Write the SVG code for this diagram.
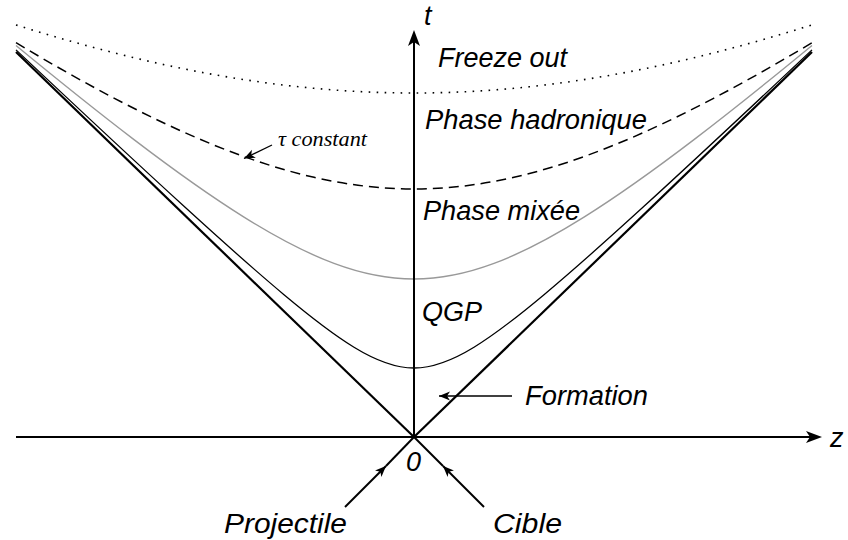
<svg xmlns="http://www.w3.org/2000/svg" width="848" height="540" viewBox="0 0 848 540">
<style>
.lbl{font-family:"Liberation Sans",Arial,sans-serif;font-style:italic;font-size:27px;fill:#000}
.ser{font-family:"Liberation Serif","Times New Roman",serif;font-style:italic;font-size:20px;fill:#000}
.axis{stroke:#000;stroke-width:2;fill:none}
.cone{stroke:#000;stroke-width:2.2;fill:none}
.qgp{stroke:#000;stroke-width:1.3;fill:none}
.grey{stroke:#999;stroke-width:1.4;fill:none}
.dash{stroke:#000;stroke-width:1.5;fill:none;stroke-dasharray:10 6}
.dot{stroke:#000;stroke-width:1.6;fill:none;stroke-dasharray:1.6 6.4}
.thin{stroke:#000;stroke-width:1.3;fill:none}
</style>
<defs>
<marker id="big" markerUnits="userSpaceOnUse" viewBox="-6 -8 20 16" markerWidth="20" markerHeight="16" refX="0" refY="0" orient="auto">
<path d="M12,0 L-4,-6 L0,0 L-4,6 Z" fill="#000"/>
</marker>
<marker id="small" markerUnits="userSpaceOnUse" viewBox="-12 -6 14 12" markerWidth="14" markerHeight="12" refX="0" refY="0" orient="auto">
<path d="M0,0 L-11,-4.5 L-8,0 L-11,4.5 Z" fill="#000"/>
</marker>
</defs>
<rect width="848" height="540" fill="#fff"/>
<g id="curves">
<g id="freeze-out-curve">
<path class="dot" d="M16,24.9 C48.67,35.16 81.33,44.5 114,52.8 C147.33,61.27 180.67,68.630 214,74.6 C247.33,80.57 280.67,85.19 314,88.3 C347.33,91.41 380.67,93 414,93 C447.33,93 480.67,91.41 514,88.3 C547.33,85.19 580.67,80.57 614,74.6 C647.33,68.63 680.67,61.27 714,52.8 C746.67,44.5 779.33,35.16 812,24.9"/>
</g>
<g id="tau-constant-curve">
<path class="dash" d="M16,42.7 C48.67,62.27 81.33,80.95 114,98.1 C147.33,115.6 180.67,131.57 214,145.1 C247.33,158.63 280.67,169.7 314,177.3 C347.33,184.9 380.67,189 414,189 C447.33,189 480.67,184.9 514,177.3 C547.33,169.7 580.67,158.63 614,145.1 C647.33,131.57 680.67,115.6 714,98.1 C746.67,80.95 779.33,62.27 812,42.7"/>
</g>
<g id="mixed-phase-curve">
<path class="grey" d="M16,45.5 C55.33,77.87 94.67,109.59 134,139.6 C170.67,167.58 207.33,194.15 244,217.1 C274,235.88 304,252.21 334,263.4 C360.67,273.35 387.33,279 414,279 C440.67,279 467.33,273.35 494,263.4 C524,252.21 554,235.88 584,217.1 C620.67,194.15 657.33,167.58 694,139.6 C733.33,109.59 772.67,77.87 812,45.5"/>
</g>
<g id="qgp-curve">
<path class="qgp" d="M16,49.9 C72,102.63 128,155.17 184,206.3 C217.33,236.73 250.67,266.8 284,294.7 C307.33,314.23 330.67,332.92 354,347.2 C374,359.44 394,368 414,368 C434,368 454,359.44 474,347.2 C497.33,332.92 520.67,314.23 544,294.7 C577.33,266.8 610.67,236.73 644,206.3 C700,155.17 756,102.63 812,49.9"/>
</g>
</g>
<g id="connectors">
<line id="z-axis" class="axis" x1="16" y1="437" x2="810" y2="437" marker-end="url(#big)"/>
<line id="t-axis" class="axis" x1="414" y1="437" x2="414" y2="42" marker-end="url(#big)"/>
<line id="cone-left" class="cone" x1="414" y1="437" x2="16" y2="52"/>
<line id="cone-right" class="cone" x1="414" y1="437" x2="812" y2="52"/>
<path id="projectile-line" class="axis" d="M386,466 L414,437"/>
<line id="projectile-arrow" class="axis" x1="345" y1="507" x2="386" y2="466" marker-end="url(#small)"/>
<path id="cible-line" class="axis" d="M443,466 L414,437"/>
<line id="cible-arrow" class="axis" x1="484" y1="507" x2="443" y2="466" marker-end="url(#small)"/>
<line id="formation-arrow" class="thin" x1="512" y1="396" x2="439" y2="396" marker-end="url(#small)"/>
<line id="tau-arrow" class="thin" x1="272" y1="145" x2="244" y2="158.5" marker-end="url(#small)"/>
</g>
<g id="labels">
<text class="lbl" x="424" y="25" font-size="22">t</text>
<text class="lbl" x="830" y="447" font-size="24">z</text>
<text class="lbl" x="438" y="67" textLength="129" lengthAdjust="spacingAndGlyphs">Freeze out</text>
<text class="lbl" x="425" y="129" textLength="222" lengthAdjust="spacingAndGlyphs">Phase hadronique</text>
<text class="lbl" x="423" y="220" textLength="157" lengthAdjust="spacingAndGlyphs">Phase mixée</text>
<text class="lbl" x="422" y="321" textLength="60" lengthAdjust="spacingAndGlyphs">QGP</text>
<text class="lbl" x="525" y="405" textLength="123" lengthAdjust="spacingAndGlyphs">Formation</text>
<text class="lbl" x="406" y="471">0</text>
<text class="lbl" x="224" y="533" textLength="123" lengthAdjust="spacingAndGlyphs">Projectile</text>
<text class="lbl" x="493" y="533" textLength="69" lengthAdjust="spacingAndGlyphs">Cible</text>
<text class="ser" x="278" y="146" textLength="89" lengthAdjust="spacingAndGlyphs">τ constant</text>
</g>
</svg>
